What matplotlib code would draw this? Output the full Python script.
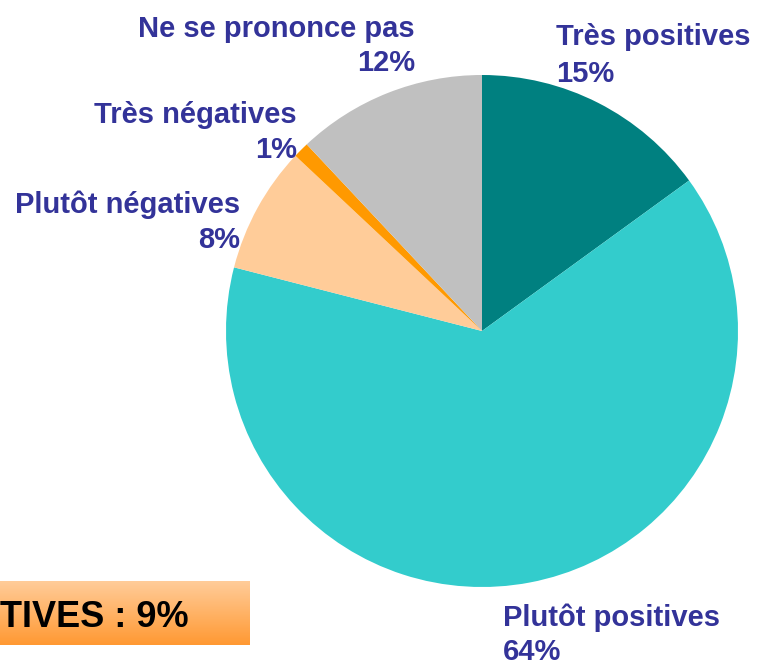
import numpy as np
import matplotlib.pyplot as plt
from matplotlib.colors import LinearSegmentedColormap

plt.rcParams['font.family'] = ['Liberation Sans', 'DejaVu Sans']

# données
categories = ['Très positives', 'Plutôt positives', 'Plutôt négatives',
              'Très négatives', 'Ne se prononce pas']
values = [15, 64, 8, 1, 12]
colors = ['#008080', '#33CCCC', '#FFCC99', '#FF9900', '#C0C0C0']
box_text = 'TIVES : 9%'

W, H = 757, 666
fig = plt.figure(figsize=(W / 100, H / 100), dpi=100)

# camembert : centre (482, 331), rayon 256 px
cx, cy, r = 482, 331, 256
ax = fig.add_axes([(cx - r) / W, (H - cy - r) / H, 2 * r / W, 2 * r / H])
ax.pie(values, colors=colors, startangle=90, counterclock=False,
       radius=1, wedgeprops=dict(linewidth=0))
ax.set_xlim(-1, 1)
ax.set_ylim(-1, 1)
ax.axis('off')

# étiquettes : (x px, ligne1 baseline, ligne2 baseline, alignement)
label_pos = [
    (556, 45, 82, 'left'),
    (503, 626, 660, 'left'),
    (240, 213, 248, 'right'),
    (297, 123, 158, 'right'),
    (415, 37, 71, 'right'),
]
for cat, v, (x, y1, y2, ha) in zip(categories, values, label_pos):
    fig.text(x / W, 1 - y1 / H, cat, ha=ha, va='baseline', fontsize=21,
             fontweight='bold', color='#333399')
    fig.text(x / W, 1 - y2 / H, f'{v}%', ha=ha, va='baseline', fontsize=21,
             fontweight='bold', color='#333399')

# encadré dégradé en bas à gauche
bx = fig.add_axes([0, (H - 645) / H, 250 / W, 64 / H])
grad = np.linspace(0, 1, 100).reshape(-1, 1)
cmap = LinearSegmentedColormap.from_list('orange', ['#FFCC99', '#FF9933'])
bx.imshow(grad, cmap=cmap, aspect='auto', extent=[0, 1, 0, 1])
bx.axis('off')
fig.text(0, 1 - 627 / H, box_text, ha='left', va='baseline', fontsize=26,
         fontweight='bold', color='black')

plt.savefig('out.png', dpi=100)
